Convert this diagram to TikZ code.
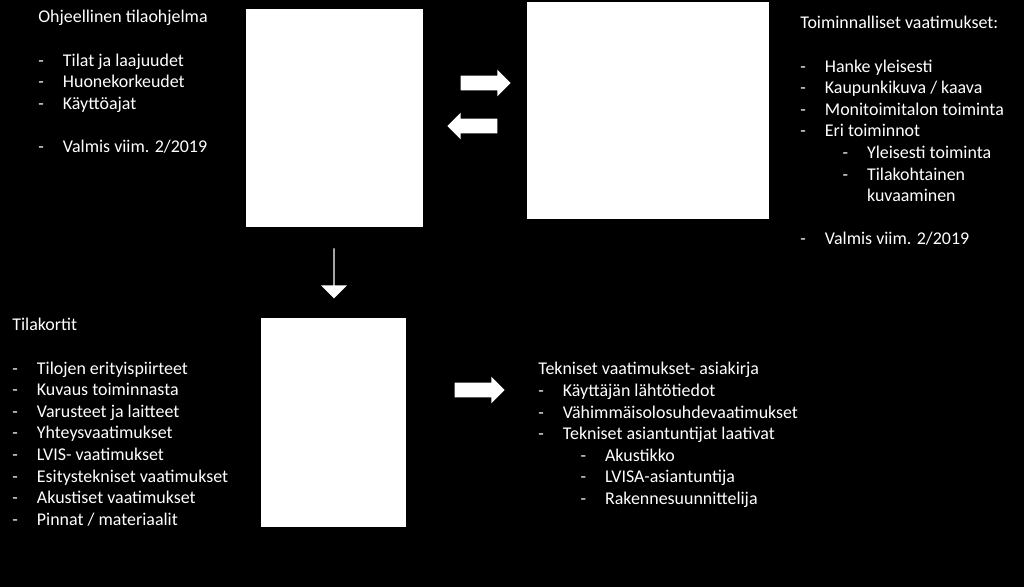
\documentclass[tikz,border=0pt]{standalone}
\usepackage{fontspec}
\setmainfont{Carlito}
\usetikzlibrary{shapes.arrows}
\newcommand{\itm}[1]{\makebox[14pt][l]{-}#1}
\newcommand{\subitm}[1]{\hspace*{24pt}\makebox[14pt][l]{-}#1}
\begin{document}
\begin{tikzpicture}
      [x=0.02cm,y=-0.02cm,
       every node/.style={text=white,font=\fontsize{10.2}{12.3}\selectfont},
       box/.style={draw=none,fill=white},
       textblock/.style={anchor=north west,align=left,inner sep=0pt},
       blockarrow/.style={single arrow,fill=white,inner xsep=0pt,inner ysep=0.14cm,
         minimum height=1cm,minimum width=0.52cm,single arrow head extend=0.12cm}]
	\fill[black] (0,0) rectangle (1024,587);
	\useasboundingbox (0,0) rectangle (1024,587);
	% boxes
	\fill[box] (246,9)   rectangle (423,227);
	\fill[box] (527,2)   rectangle (769,219);
	\fill[box] (261,318) rectangle (406,527);
	% arrows
	\node (arA)[blockarrow,shape border rotate=0]   at (482,83)  {};
	\node (arB)[blockarrow,shape border rotate=180] at (476,126) {};
	\node (arC)[blockarrow,shape border rotate=270] at (334,273) {};
	\node (arD)[blockarrow,shape border rotate=0]   at (476,390) {};
	% texts
	\node (ohj)[textblock] at (38,10) {Ohjeellinen tilaohjelma\\[12.3pt]
	  \itm{Tilat ja laajuudet}\\ \itm{Huonekorkeudet}\\ \itm{Käyttöajat}\\[12.3pt]
	  \itm{Valmis viim. 2/2019}};
	\node (toi)[textblock] at (800,16) {Toiminnalliset vaatimukset:\\[12.3pt]
	  \itm{Hanke yleisesti}\\ \itm{Kaupunkikuva / kaava}\\ \itm{Monitoimitalon toiminta}\\
	  \itm{Eri toiminnot}\\ \subitm{Yleisesti toiminta}\\ \subitm{Tilakohtainen}\\
	  \hspace*{38pt}kuvaaminen\\[12.3pt]
	  \itm{Valmis viim. 2/2019}};
	\node (til)[textblock] at (12,318) {Tilakortit\\[12.3pt]
	  \itm{Tilojen erityispiirteet}\\ \itm{Kuvaus toiminnasta}\\ \itm{Varusteet ja laitteet}\\
	  \itm{Yhteysvaatimukset}\\ \itm{LVIS- vaatimukset}\\ \itm{Esitystekniset vaatimukset}\\
	  \itm{Akustiset vaatimukset}\\ \itm{Pinnat / materiaalit}};
	\node (tek)[textblock] at (538,362) {Tekniset vaatimukset- asiakirja\\
	  \itm{Käyttäjän lähtötiedot}\\ \itm{Vähimmäisolosuhdevaatimukset}\\
	  \itm{Tekniset asiantuntijat laativat}\\ \subitm{Akustikko}\\
	  \subitm{LVISA-asiantuntija}\\ \subitm{Rakennesuunnittelija}};
\end{tikzpicture}
\end{document}
